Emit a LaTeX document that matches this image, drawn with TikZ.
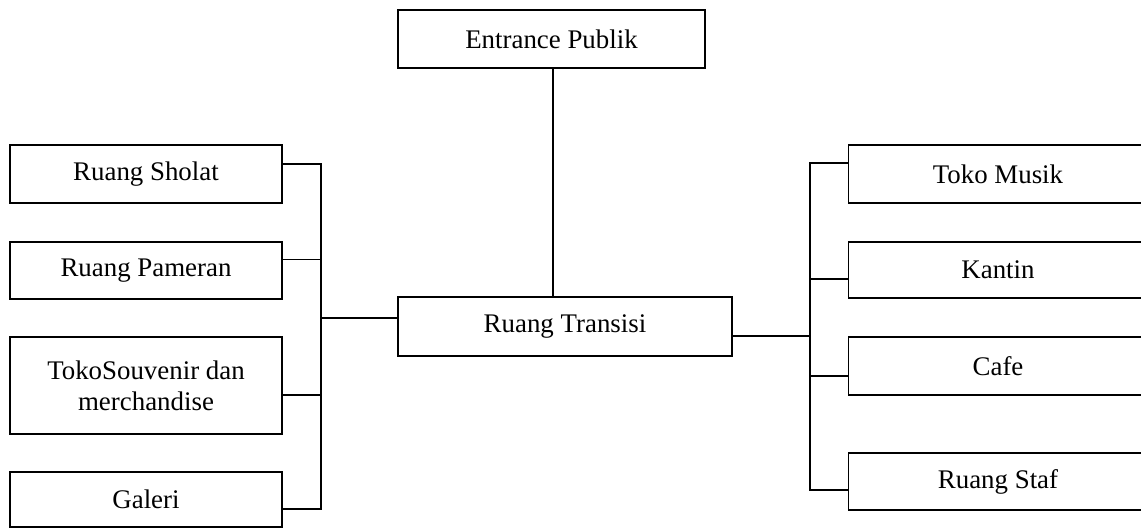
\documentclass[tikz,border=0pt]{standalone}
\usepackage{fontspec}
\setmainfont{Liberation Serif}
\usetikzlibrary{calc}
\begin{document}
\begin{tikzpicture}[x=0.02cm,y=-0.02cm,
  box/.style={draw,line width=1.05pt,inner sep=0pt,align=center,
    font=\fontsize{15.3}{17.5}\selectfont},
  link/.style={line width=1pt}]
\clip (0,0) rectangle (1141,529);
\fill[white] (0,0) rectangle (1141,529);
% center
\node[box,minimum width=6.14cm,minimum height=1.16cm] (ep) at (551.5,39) {Entrance Publik};
\node[box,minimum width=6.68cm,minimum height=1.18cm] (rt) at (565,326.5) {Ruang Transisi};
% left
\node[box,minimum width=5.44cm,minimum height=1.16cm] (rs) at (146,174) {Ruang Sholat};
\node[box,minimum width=5.44cm,minimum height=1.14cm] (rp) at (146,270.5) {Ruang Pameran};
\node[box,minimum width=5.44cm,minimum height=1.94cm] (ts) at (146,385.5) {TokoSouvenir dan\\merchandise};
\node[box,minimum width=5.44cm,minimum height=1.10cm] (ga) at (146,499.5) {Galeri};
% right
\node[box,minimum width=5.98cm,minimum height=1.16cm] (tm) at (998,174) {Toko Musik};
\node[box,minimum width=5.98cm,minimum height=1.12cm] (ka) at (998,270) {Kantin};
\node[box,minimum width=5.98cm,minimum height=1.16cm] (ca) at (998,366) {Cafe};
\node[box,minimum width=5.98cm,minimum height=1.14cm] (st) at (998,481.5) {Ruang Staf};
% junctions
\coordinate (jl) at (321,318);
\coordinate (jr) at (810,336);
\coordinate (jt) at ($(ep.south)+(1.5,0)$);
% connectors
\draw[link] (jt) -- (jt |- rt.north);
\draw[link] ($(rt.west)+(0,-8.5)$) -- (jl);
\draw[link] ($(rt.east)+(0,9.5)$) -- (jr);
\draw[link] ($(rs.east)+(0,-10)$) -| (jl);
\draw[link] ($(rp.east)+(0,-11)$) -| (jl);
\draw[link] ($(ts.east)+(0,9.5)$) -| (jl);
\draw[link] ($(ga.east)+(0,9.5)$) -| (jl);
\draw[link] ($(tm.west)+(0,-11)$) -| (jr);
\draw[link] ($(ka.west)+(0,9)$) -| (jr);
\draw[link] ($(ca.west)+(0,10)$) -| (jr);
\draw[link] ($(st.west)+(0,8.5)$) -| (jr);
\end{tikzpicture}
\end{document}
